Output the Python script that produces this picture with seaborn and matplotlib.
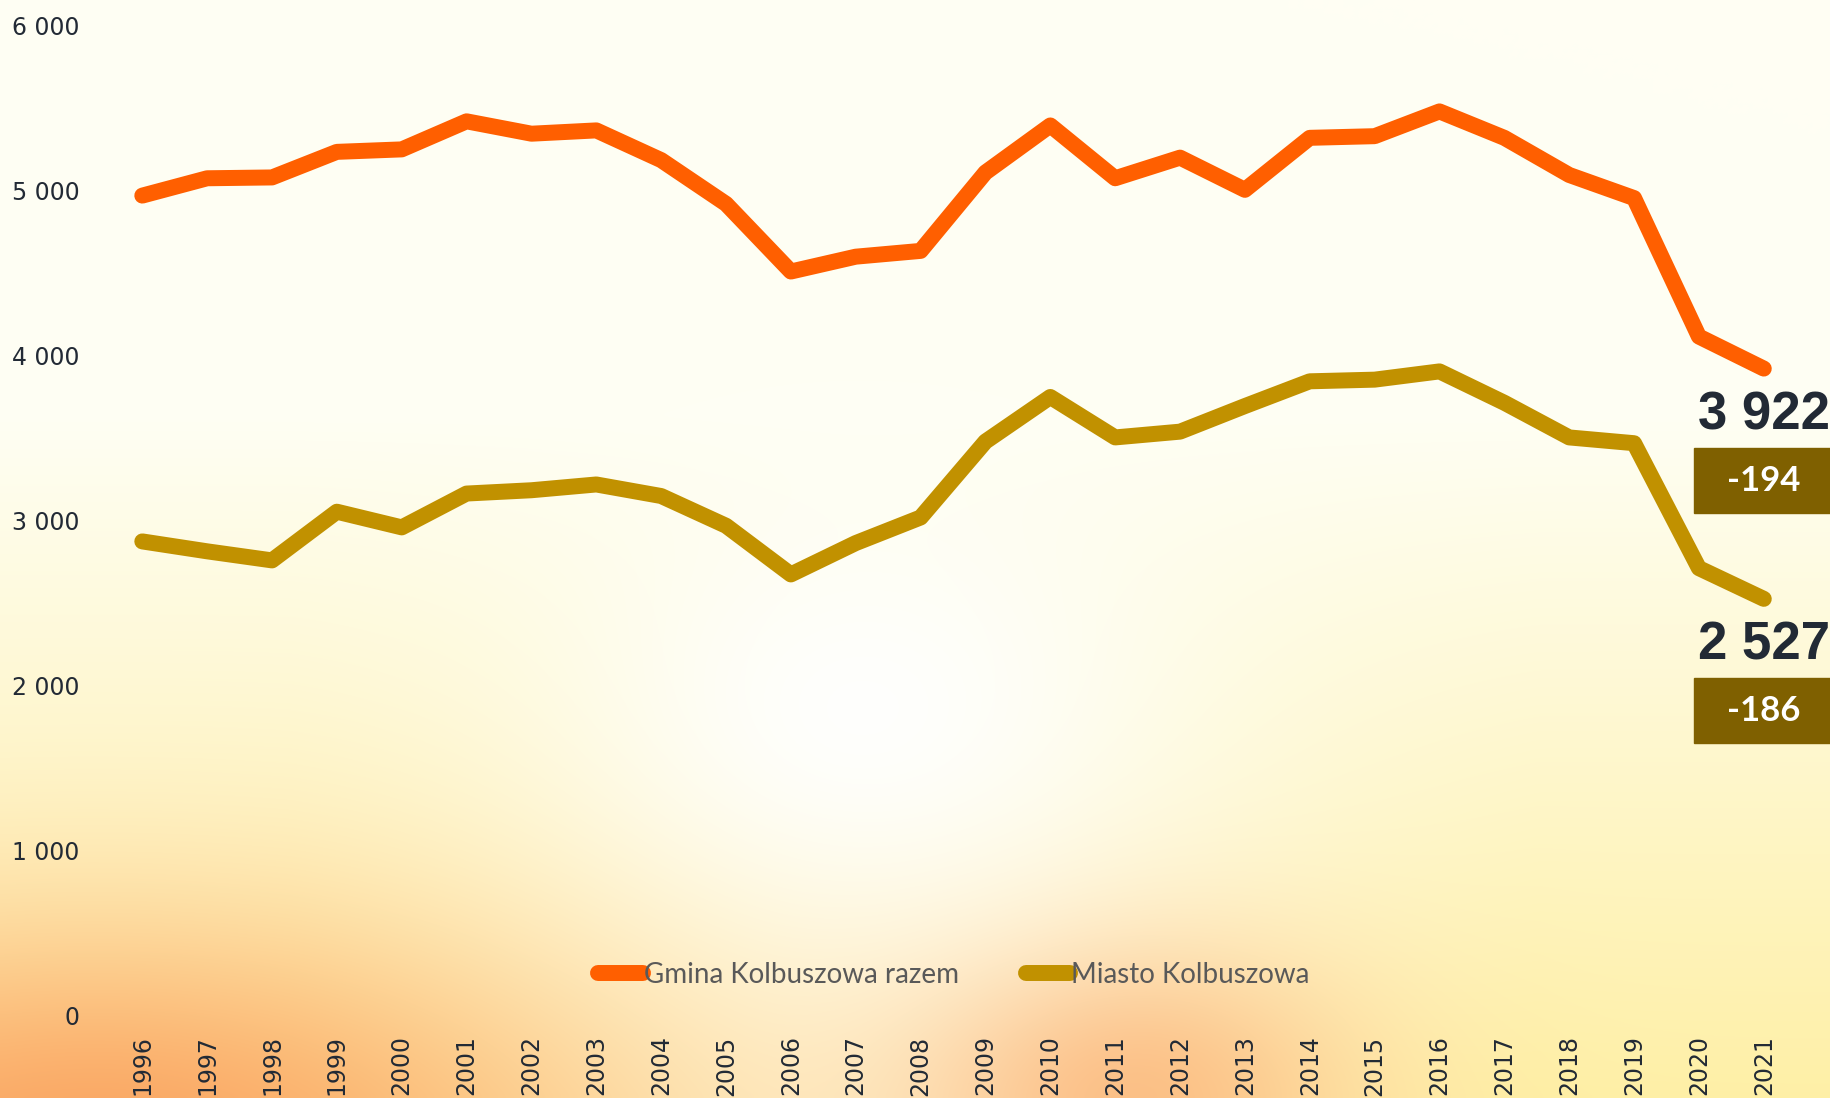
import numpy as np
import pandas as pd
import matplotlib
matplotlib.use("Agg")
import matplotlib.pyplot as plt
import matplotlib.patches as mpatches
import seaborn as sns

# Data
years = list(range(1996, 2022))
gmina = [4970, 5075, 5080, 5235, 5250, 5420, 5345, 5365, 5185, 4920,
         4510, 4600, 4635, 5110, 5395, 5075, 5200, 5005, 5320, 5330,
         5480, 5320, 5095, 4955, 4116, 3922]
miasto = [2875, 2815, 2760, 3055, 2960, 3165, 3185, 3220, 3150, 2970,
          2675, 2865, 3020, 3480, 3750, 3505, 3540, 3695, 3845, 3855,
          3905, 3715, 3505, 3470, 2713, 2527]
series_names = ["Gmina Kolbuszowa razem", "Miasto Kolbuszowa"]
last_values = ["3 922", "2 527"]
changes = ["-194", "-186"]
y_ticks = [0, 1000, 2000, 3000, 4000, 5000, 6000]

colors = ["#FF5F00", "#C19100"]
dark = "#222A35"

df = pd.DataFrame({"year": years, series_names[0]: gmina, series_names[1]: miasto})
long = df.melt(id_vars="year", var_name="series", value_name="value")

sns.set_theme(style="white")
W, H = 1831, 1098
fig = plt.figure(figsize=(W / 100, H / 100), dpi=100)

# warm gradient backdrop
bg = fig.add_axes([0, 0, 1, 1], zorder=0)
gx, gy = np.meshgrid(np.linspace(0, 1, 366), np.linspace(0, 1, 220))  # gy: 0 top, 1 bottom
base = np.array([1.0, 0.998, 0.955])
yellow = np.array([1.0, 0.93, 0.60])
orange = np.array([0.98, 0.62, 0.36])
img = np.ones((220, 366, 3)) * base
w_y = np.clip((gy - 0.38) / 0.62, 0, 1) ** 1.0 * 0.85
w_y *= np.clip(1.1 - 0.7 * np.exp(-((gx - 0.5) ** 2) / 0.06), 0, 1)
img = img * (1 - w_y[..., None]) + yellow * w_y[..., None]
w_o = np.exp(-((gx - 0.05) ** 2) / 0.08 - ((gy - 1.05) ** 2) / 0.04) * 0.9
w_o += np.exp(-((gx - 0.62) ** 2) / 0.015 - ((gy - 1.0) ** 2) / 0.02) * 0.6
w_o = np.clip(w_o, 0, 0.9)
img = img * (1 - w_o[..., None]) + orange * w_o[..., None]
w_w = np.exp(-((gx - 0.47) ** 2) / 0.02 - ((gy - 0.65) ** 2) / 0.03) * 0.9
img = img * (1 - w_w[..., None]) + np.array([1, 1, 1]) * w_w[..., None]
bg.imshow(img, aspect="auto", extent=[0, 1, 0, 1], interpolation="bicubic")
bg.axis("off")

ax = fig.add_axes([0.060, 0.0747, 0.921, 0.902], zorder=1)
ax.patch.set_alpha(0)
sns.lineplot(data=long, x="year", y="value", hue="series", palette=colors,
             linewidth=11.5, ax=ax, legend=False)
for ln in ax.lines:
    ln.set_solid_capstyle("round")
    ln.set_solid_joinstyle("round")

ax.set_xlim(1995.5, 2021.5)
ax.set_ylim(0, 6000)
ax.set_xticks(years)
ax.set_xticklabels([str(y) for y in years], rotation=90, fontsize=17, color=dark)
ax.set_yticks(y_ticks)
ax.set_yticklabels([f"{v:,}".replace(",", " ") for v in y_ticks], fontsize=17, color=dark)
ax.tick_params(axis="y", length=0, pad=22)
ax.tick_params(axis="x", length=0, pad=14)
ax.set_xlabel("")
ax.set_ylabel("")
for s in ax.spines.values():
    s.set_visible(False)

# legend
handles = [plt.Line2D([], [], color=c, linewidth=11.5, solid_capstyle="round") for c in colors]
leg = fig.legend(handles, series_names, loc="center", bbox_to_anchor=(0.521, 1 - 975 / H),
                 ncol=2, frameon=False, handlelength=1.6, handletextpad=0.05,
                 columnspacing=2.4, prop={"family": "Lato", "size": 20})
for t in leg.get_texts():
    t.set_color("#595959")

# end labels
for vals, lab, ch in zip([gmina, miasto], last_values, changes):
    px, py = ax.transData.transform((years[-1], vals[-1]))
    py_top = H - py
    cx = px
    fig.text(cx / W, 1 - (py_top + 47) / H, lab, ha="center", va="center",
             fontsize=38, fontweight="bold", color=dark, family="Liberation Sans")
    box_top = py_top + 79
    fig.patches.append(mpatches.Rectangle((1694 / W, 1 - (box_top + 65) / H), 140 / W, 65 / H,
                                          transform=fig.transFigure, color="#7F6000", zorder=2))
    fig.text(cx / W, 1 - (box_top + 33) / H, ch, ha="center", va="center", zorder=3,
             fontsize=25, fontweight="bold", color="white", family="Lato")

fig.savefig("out.png", dpi=100)
